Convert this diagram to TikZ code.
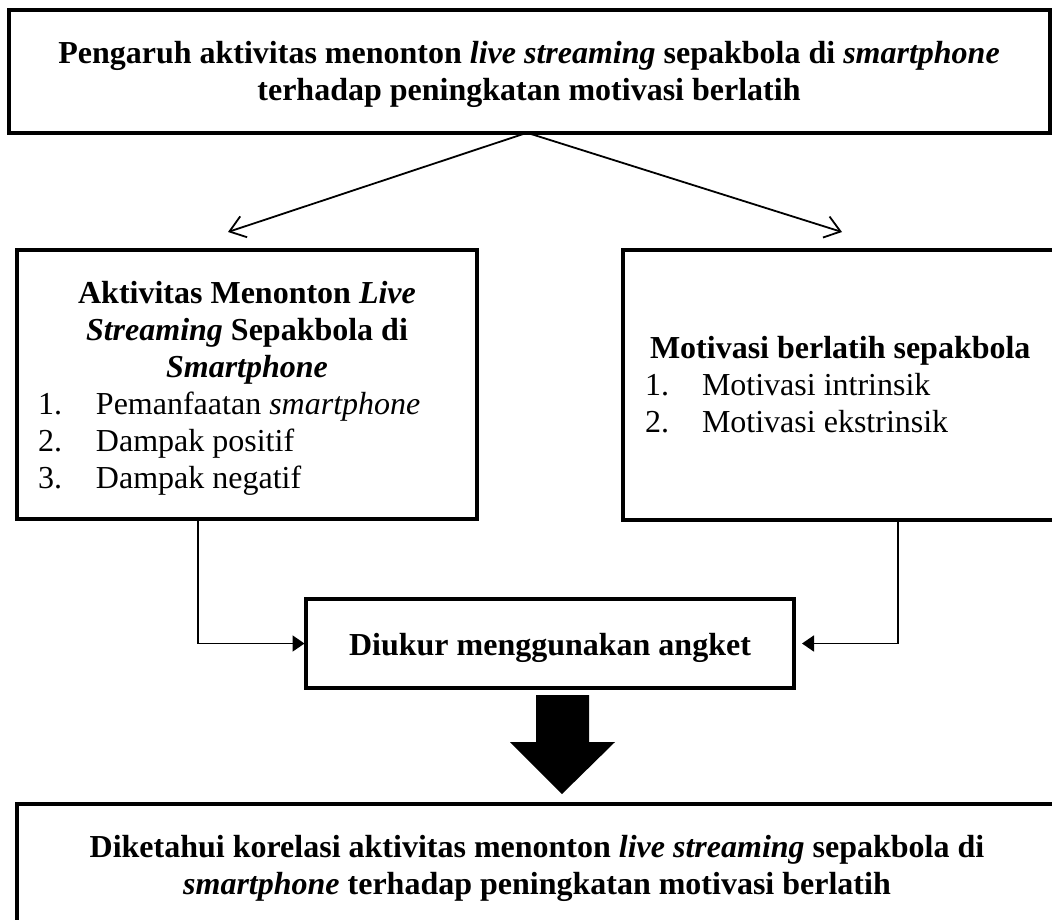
\documentclass[tikz,border=0pt]{standalone}
\usepackage{fontspec}
\setmainfont{Liberation Serif}
\usepackage{array}
\usetikzlibrary{arrows.meta}
\begin{document}
\begin{tikzpicture}[x=1pt,y=-1pt,
  box/.style={draw, rectangle, line width=4.3pt, inner sep=0pt, outer sep=0pt},
  txt/.style={inner sep=0pt, outer sep=0pt, font=\fontsize{32}{37}\selectfont},
  conn/.style={line width=1.8pt},
  openhead/.style={-{Straight Barb[length=15pt,width=22pt]}},
  solidhead/.style={-{Triangle[length=12pt,width=16pt]}}
]
\useasboundingbox (0,0) rectangle (1052,919);
\clip (0,0) rectangle (1052,919);

% boxes
\node[box, minimum width=1040.5pt, minimum height=122.5pt] (top) at (529.5,71.5) {};
\node[box, minimum width=460pt, minimum height=269pt] (aktiv) at (247,384.5) {};
\node[box, minimum width=467pt, minimum height=270pt] (motiv) at (856.5,385) {};
\node[box, minimum width=488pt, minimum height=89pt, font=\fontsize{32}{37}\selectfont\bfseries,
      text height=24pt, text depth=1pt] (ukur) at (550,643.5) {Diukur menggunakan angket};
\node[box, minimum width=1073pt, minimum height=156pt] (hasil) at (553.5,882) {};

% texts
\node[txt, anchor=north] (toptext) at (529,37.1) {\begin{tabular}{@{}c@{}}
\bfseries Pengaruh aktivitas menonton \textit{live streaming} sepakbola di \textit{smartphone}\\
\bfseries terhadap peningkatan motivasi berlatih
\end{tabular}};

\node[txt, anchor=north west] (aktivtext) at (38,277.1) {\begin{tabular}{@{}p{58pt}@{}p{360pt}@{}}
\multicolumn{2}{@{}c@{}}{\bfseries Aktivitas Menonton \textit{Live}}\\
\multicolumn{2}{@{}c@{}}{\bfseries\textit{Streaming} Sepakbola di}\\
\multicolumn{2}{@{}c@{}}{\bfseries\textit{Smartphone}}\\
1. & Pemanfaatan \textit{smartphone}\\
2. & Dampak positif\\
3. & Dampak negatif
\end{tabular}};

\node[txt, anchor=north west] (motivtext) at (645,332.1) {\begin{tabular}{@{}p{57pt}@{}l@{}}
\multicolumn{2}{@{\hspace{5pt}}l@{}}{\bfseries Motivasi berlatih sepakbola}\\
1. & Motivasi intrinsik\\
2. & Motivasi ekstrinsik
\end{tabular}};

\node[txt, anchor=north] (hasiltext) at (537,831.1) {\begin{tabular}{@{}c@{}}
\bfseries Diketahui korelasi aktivitas menonton \textit{live streaming} sepakbola di\\
\bfseries\textit{smartphone} terhadap peningkatan motivasi berlatih
\end{tabular}};

% connectors
\coordinate (la) at (228,232);
\coordinate (ra) at (842,232);
\draw[conn, openhead] ([xshift=-2.5pt]top.south) -- (la);
\draw[conn, openhead] ([xshift=-2.5pt]top.south) -- (ra);
\draw[conn, solidhead, shorten >=1.5pt] ([xshift=-49pt]aktiv.south) |- (ukur.west);
\draw[conn, solidhead, shorten >=8pt] ([xshift=41.5pt]motiv.south) |- (ukur.east);

% big block arrow
\fill (536,695) -- (589,695) -- (589,742) -- (615,742) -- (562,794) -- (510,742) -- (536,742) -- cycle;
\end{tikzpicture}
\end{document}
